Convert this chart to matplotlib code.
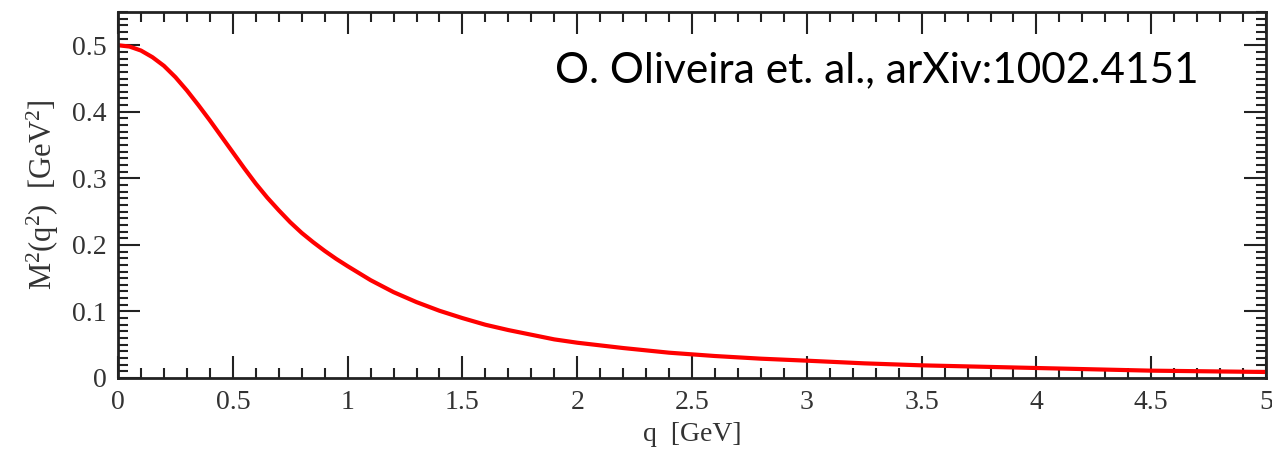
import numpy as np
import matplotlib.pyplot as plt
from matplotlib.ticker import MultipleLocator, FuncFormatter

# values
q = [0.0, 0.05, 0.1, 0.15, 0.2, 0.25, 0.3, 0.35, 0.4, 0.45, 0.5, 0.55, 0.6,
     0.65, 0.7, 0.75, 0.8, 0.85, 0.9, 0.95, 1.0, 1.1, 1.2, 1.3, 1.4, 1.5, 1.6,
     1.7, 1.8, 1.9, 2.0, 2.2, 2.4, 2.6, 2.8, 3.0, 3.25, 3.5, 3.75, 4.0, 4.5, 5.0]
m2 = [0.500, 0.498, 0.492, 0.482, 0.469, 0.452, 0.432, 0.410, 0.387, 0.363,
      0.339, 0.315, 0.292, 0.271, 0.252, 0.234, 0.218, 0.204, 0.191, 0.179,
      0.168, 0.147, 0.129, 0.114, 0.101, 0.090, 0.080, 0.072, 0.065, 0.058,
      0.053, 0.045, 0.038, 0.033, 0.029, 0.026, 0.022, 0.019, 0.017, 0.015,
      0.011, 0.009]

plt.rcParams['font.family'] = ['Liberation Serif', 'DejaVu Serif']
plt.rcParams['mathtext.fontset'] = 'custom'
plt.rcParams['mathtext.rm'] = 'Liberation Serif'
plt.rcParams['mathtext.it'] = 'Liberation Serif:italic'

fig = plt.figure(figsize=(12.72, 4.53), dpi=100)
ax = fig.add_axes([0.0928, 0.1656, 0.9025, 0.808])

ax.plot(q, m2, color='#ff0000', linewidth=3, solid_joinstyle='round')

ax.set_xlim(0, 5)
ax.set_ylim(0, 0.55)
ax.xaxis.set_major_locator(MultipleLocator(0.5))
ax.xaxis.set_minor_locator(MultipleLocator(0.1))
ax.yaxis.set_major_locator(MultipleLocator(0.1))
ax.yaxis.set_minor_locator(MultipleLocator(0.01))
fmt = FuncFormatter(lambda v, p: '%g' % round(v, 3))
ax.xaxis.set_major_formatter(fmt)
ax.yaxis.set_major_formatter(fmt)

ax.tick_params(which='both', direction='in', top=True, right=True,
               color='#222222', width=1.5)
ax.tick_params(which='major', length=16, labelsize=20, labelcolor='#333333')
ax.tick_params(axis='x', which='major', pad=9)
ax.tick_params(axis='y', which='major', pad=8)
ax.tick_params(which='minor', length=7.5)
for s in ax.spines.values():
    s.set_linewidth(2)
    s.set_color('#222222')

ax.set_xlabel('q  [GeV]', fontsize=20, color='#333333', labelpad=5)
ax.set_ylabel(r'M$^2$(q$^2$)  [GeV$^2$]', fontsize=22, color='#333333', labelpad=8)

ax.text(0.941, 0.842, 'O. Oliveira et. al., arXiv:1002.4151', transform=ax.transAxes,
        ha='right', va='center', fontsize=30.5, family=['Lato', 'DejaVu Sans'],
        color='black')

fig.savefig('out.png', dpi=100)
